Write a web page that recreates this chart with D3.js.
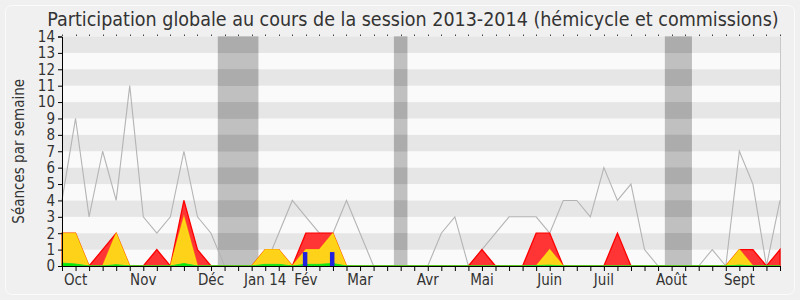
<!DOCTYPE html>
<html>
<head>
<meta charset="utf-8">
<script src="https://cdn.jsdelivr.net/npm/d3@7"></script>
<style>
  body { margin: 0; background: #f0f0f0; }
  svg { display: block; font-family: "DejaVu Sans Condensed", "DejaVu Sans", sans-serif; }
</style>
</head>
<body>
<div id="chart"></div>
<script>
// weekly values, session 2013-2014 (54 weeks)
var totalSeances = [4, 9, 3, 7, 4, 11, 3, 2, 3, 7, 3, 2, 0, 0, 0, 0, 2, 4, 3, 2, 2, 4, 2, 0, 0, 0, 0, 0, 2, 3, 0, 1, 2, 3, 3, 3, 2, 4, 4, 3, 6, 4, 5, 1, 0, 0, 0, 0, 1, 0, 7, 5, 0, 4];
var presenceCom  = [2, 2, 0, 1, 2, 0, 0, 1, 0, 4, 1, 0, 0, 0, 0, 1, 1, 0, 2, 2, 2, 0, 0, 0, 0, 0, 0, 0, 0, 0, 0, 1, 0, 0, 0, 2, 2, 0, 0, 0, 0, 2, 0, 0, 0, 0, 0, 0, 0, 0, 1, 1, 0, 1];
var presenceHemi = [2, 2, 0, 0, 2, 0, 0, 0, 0, 3, 0, 0, 0, 0, 0, 1, 1, 0, 1, 1, 2, 0, 0, 0, 0, 0, 0, 0, 0, 0, 0, 0, 0, 0, 0, 0, 1, 0, 0, 0, 0, 0, 0, 0, 0, 0, 0, 0, 0, 0, 1, 0, 0, 0];
var interventions = [0.18, 0.12, 0, 0, 0.08, 0, 0, 0, 0, 0.15, 0, 0, 0, 0, 0, 0.1, 0.1, 0, 0.1, 0.1, 0.15, 0, 0, 0, 0, 0, 0, 0, 0, 0, 0, 0, 0, 0, 0, 0.03, 0.05, 0, 0, 0, 0, 0, 0, 0, 0, 0, 0, 0, 0, 0, 0.05, 0, 0, 0];
var questions = [{week: 18, value: 0.85}, {week: 20, value: 0.85}];

// vacances parlementaires (first week, last week)
var vacances = [[12, 14], [25, 25], [45, 46]];

var monthLabels = ["Oct", "Nov", "Déc", "Jan 14", "Fév", "Mar", "Avr", "Mai", "Juin", "Juil", "Août", "Sept"];
var monthWeeks  = [1, 6, 11, 15, 18, 22, 27, 31, 36, 40, 45, 50];
var yTicks = d3.range(0, 15);

var width = 800;
var height = 300;

var svg = d3.select("#chart")
	.append("svg")
	.attr("width", width)
	.attr("height", height);

// outer frame
svg.append("rect")
	.attr("x", 5.5).attr("y", 5.5)
	.attr("width", 789).attr("height", 289)
	.attr("rx", 6)
	.attr("fill", "#f0f0f0")
	.attr("stroke", "#fbfbfb");

var xScale = d3.scaleLinear()
	.domain([0, totalSeances.length - 1])
	.range([62, 780]);

var yScale = d3.scaleLinear()
	.domain([0, 14])
	.range([266, 36.5]);

var plotLeft = xScale.range()[0], plotRight = xScale.range()[1];

// plot background
svg.append("rect")
	.attr("x", plotLeft).attr("y", yScale(14))
	.attr("width", plotRight - plotLeft)
	.attr("height", yScale(0) - yScale(14))
	.attr("fill", "#ffffff");

// vacances bands (under the stripes)
svg.append("g").selectAll("rect")
	.data(vacances)
	.enter().append("rect")
	.attr("x", function(d) { return xScale(d[0] - 0.5); })
	.attr("width", function(d) { return xScale(d[1] + 0.5) - xScale(d[0] - 0.5); })
	.attr("y", yScale(14))
	.attr("height", yScale(0) - yScale(14))
	.attr("fill", "#8b8b8b");

// horizontal stripes
svg.append("g").selectAll("rect")
	.data(d3.range(0, 14))
	.enter().append("rect")
	.attr("x", plotLeft)
	.attr("width", plotRight - plotLeft)
	.attr("y", function(d) { return yScale(d + 1); })
	.attr("height", function(d) { return yScale(d) - yScale(d + 1); })
	.attr("fill", function(d) { return d % 2 === 0 ? "#f5f5f5" : "#cdcdcd"; })
	.attr("opacity", 0.5);

// right border of plot
svg.append("line")
	.attr("x1", plotRight + 0.5).attr("x2", plotRight + 0.5)
	.attr("y1", yScale(14)).attr("y2", yScale(0))
	.attr("stroke", "#c8c8c8");

// total seances line
var line = d3.line()
	.x(function(d, i) { return xScale(i); })
	.y(function(d) { return yScale(d); });

svg.append("path")
	.datum(totalSeances)
	.attr("d", line)
	.attr("fill", "none")
	.attr("stroke", "#b4b4b4")
	.attr("stroke-width", 1.1);

var area = d3.area()
	.x(function(d, i) { return xScale(i); })
	.y0(yScale(0))
	.y1(function(d) { return yScale(d); });

svg.append("path")
	.datum(presenceCom)
	.attr("d", area)
	.attr("fill", "#ff3535")
	.attr("stroke", "#ff0000")
	.attr("stroke-width", 1.3);

svg.append("path")
	.datum(presenceHemi)
	.attr("d", area)
	.attr("fill", "#ffd21a")
	.attr("stroke", "rgba(255,255,0,0.5)")
	.attr("stroke-width", 1.3);

svg.append("path")
	.datum(interventions)
	.attr("d", area)
	.attr("fill", "#00ee00")
	.attr("stroke", "#22dd22")
	.attr("stroke-width", 1);

// questions orales
svg.append("g").selectAll("rect")
	.data(questions)
	.enter().append("rect")
	.attr("x", function(d) { return xScale(d.week) - 3; })
	.attr("width", 4.5)
	.attr("y", function(d) { return yScale(d.value); })
	.attr("height", function(d) { return yScale(0) - yScale(d.value); })
	.attr("fill", "#2222dd");

// top dotted week marks
svg.append("g").selectAll("rect")
	.data(totalSeances)
	.enter().append("rect")
	.attr("x", function(d, i) { return Math.round(xScale(i)); })
	.attr("y", yScale(14) - 2)
	.attr("width", 1).attr("height", 1.5)
	.attr("fill", "#444");

// y axis
var yAxis = svg.append("g")
	.attr("transform", "translate(" + plotLeft + ",0)")
	.call(d3.axisLeft(yScale).tickValues(yTicks).tickSize(4).tickPadding(3).tickFormat(d3.format("d")));
yAxis.selectAll("text")
	.style("font-size", "15px")
	.style("font-family", "'DejaVu Sans Condensed', 'DejaVu Sans', sans-serif")
	.attr("fill", "#333");

// x axis, weekly ticks
var xAxis = svg.append("g")
	.attr("transform", "translate(0," + yScale(0) + ")")
	.call(d3.axisBottom(xScale).tickValues(d3.range(0, totalSeances.length)).tickSize(5).tickFormat(""));
xAxis.select(".domain").attr("stroke", "#000");

svg.append("g").selectAll("text")
	.data(monthLabels)
	.enter().append("text")
	.attr("x", function(d, i) { return xScale(monthWeeks[i]); })
	.attr("y", 285)
	.attr("text-anchor", "middle")
	.style("font-size", "15px")
	.attr("fill", "#333")
	.text(function(d) { return d; });

// titles
svg.append("text")
	.attr("x", 413)
	.attr("y", 26)
	.attr("text-anchor", "middle")
	.style("font-size", "19.5px")
	.attr("fill", "#333")
	.text("Participation globale au cours de la session 2013-2014 (hémicycle et commissions)");

svg.append("text")
	.attr("transform", "translate(24," + yScale(7) + ") rotate(-90)")
	.attr("text-anchor", "middle")
	.style("font-size", "15px")
	.attr("fill", "#333")
	.text("Séances par semaine");
</script>
</body>
</html>
